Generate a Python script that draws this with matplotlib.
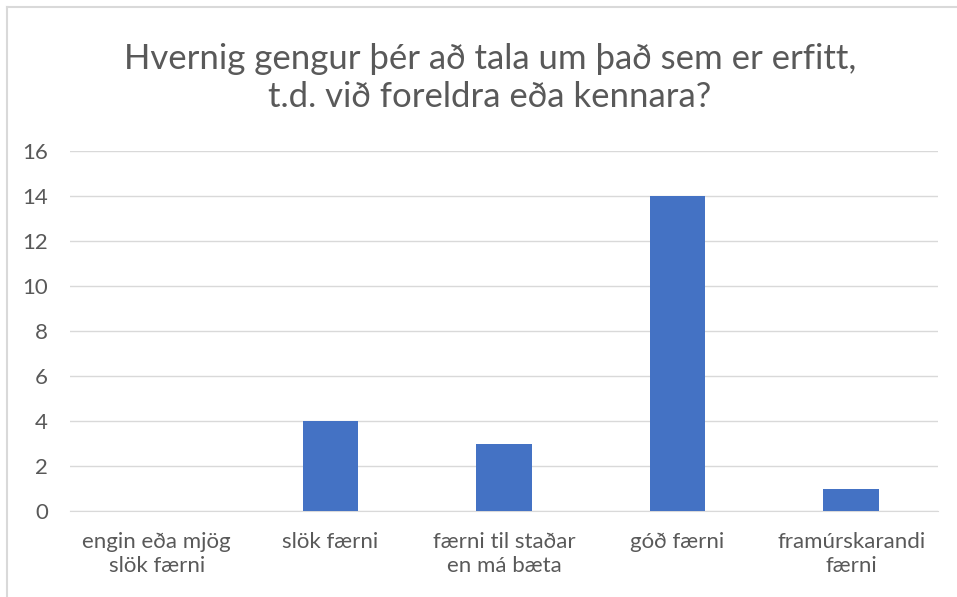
import matplotlib
matplotlib.use("Agg")
import matplotlib.pyplot as plt
from matplotlib.lines import Line2D

categories = ["engin eða mjög\nslök færni", "slök færni", "færni til staðar\nen má bæta", "góð færni", "framúrskarandi\nfærni"]
values = [0, 4, 3, 14, 1]
yticks = [0, 2, 4, 6, 8, 10, 12, 14, 16]
title = "Hvernig gengur þér að tala um það sem er erfitt,\nt.d. við foreldra eða kennara?"

plt.rcParams['font.family'] = ['Lato', 'DejaVu Sans']
fig = plt.figure(figsize=(9.57, 5.97), dpi=100)
ax = fig.add_axes([70/957, 1-511/597, 868/957, 360/597])
ax.bar(range(len(categories)), values, width=0.32, color="#4472C4", zorder=3)
ax.set_xlim(-0.5, len(categories)-0.5)
ax.set_ylim(0, 16)
ax.set_yticks(yticks)
ax.set_xticks(range(len(categories)))
ax.set_xticklabels(categories, fontsize=16, color="#595959", linespacing=1.25)
ax.tick_params(axis='y', labelsize=16, colors="#595959", length=0, pad=16)
ax.tick_params(axis='x', length=0, pad=15)
ax.grid(axis='y', color="#D9D9D9", linewidth=1, zorder=0)
for s in ['top', 'right', 'left']:
    ax.spines[s].set_visible(False)
ax.spines['bottom'].set_color("#D9D9D9")
fig.text(490/957, 1-78/597, title, ha='center', va='center', fontsize=25, color="#595959", linespacing=1.2)
fig.add_artist(Line2D([7/957, 1], [1-7/597, 1-7/597], transform=fig.transFigure, color="#D9D9D9", linewidth=1.5))
fig.add_artist(Line2D([7/957, 7/957], [0, 1-7/597], transform=fig.transFigure, color="#D9D9D9", linewidth=1.5))
fig.savefig("out.png", dpi=100)
